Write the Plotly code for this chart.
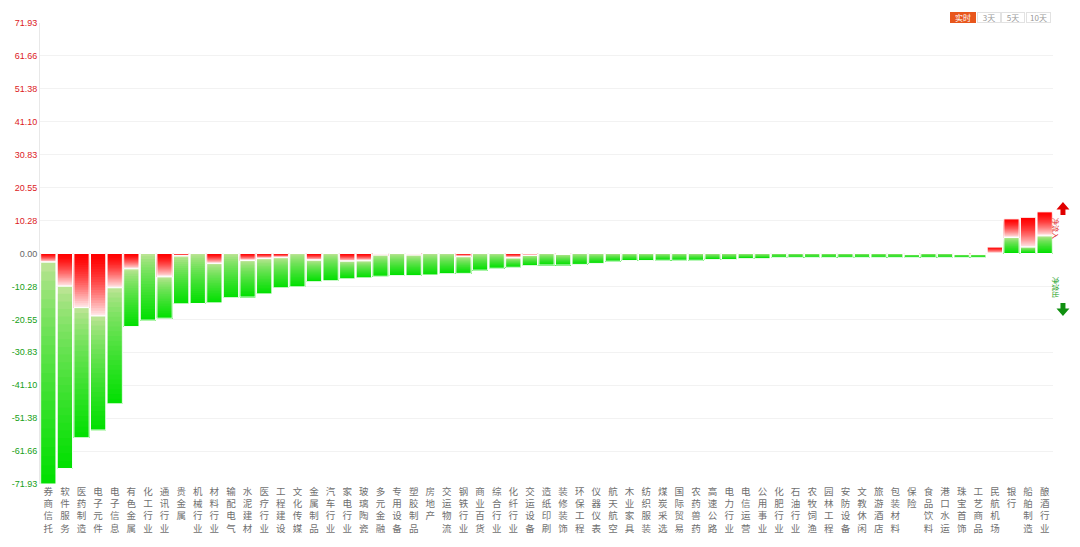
import plotly.graph_objects as go

categories = ["券商信托", "软件服务", "医药制造", "电子元件", "电子信息", "有色金属", "化工行业", "通讯行业",
              "贵金属", "机械行业", "材料行业", "输配电气", "水泥建材", "医疗行业", "工程建设", "文化传媒",
              "金属制品", "汽车行业", "家电行业", "玻璃陶瓷", "多元金融", "专用设备", "塑胶制品", "房地产",
              "交运物流", "钢铁行业", "商业百货", "综合行业", "化纤行业", "交运设备", "造纸印刷", "装修装饰",
              "环保工程", "仪器仪表", "航天航空", "木业家具", "纺织服装", "煤炭采选", "国际贸易", "农药兽药",
              "高速公路", "电力行业", "电信运营", "公用事业", "化肥行业", "石油行业", "农牧饲渔", "园林工程",
              "安防设备", "文教休闲", "旅游酒店", "包装材料", "保险", "食品饮料", "港口水运", "珠宝首饰",
              "工艺商品", "民航机场", "银行", "船舶制造", "酿酒行业"]

# red (inflow) segment and green (outflow) segment, signed
red_part = [-2.7, -10.2, -16.9, -19.5, -10.7, -4.8, 0.0, -7.3,
            -0.8, 0.0, -3.1, 0.0, -2.2, -1.6, -1.3, 0.0,
            -2.1, 0.0, -2.4, -2.3, -0.5, 0.0, -0.5, 0.0,
            0.0, -1.0, 0.0, 0.0, -1.4, -0.6, 0.0, -0.3,
            0.0, 0.0, 0.0, 0.0, 0.0, 0.0, 0.0, 0.0,
            0.0, 0.0, 0.0, 0.0, 0.0, 0.0, 0.0, 0.0,
            0.0, 0.0, 0.0, 0.0, -0.3, 0.0, 0.0, -0.3,
            -0.3, 2.0, 5.8, 9.3, 7.5]
green_part = [-69.23, -56.9, -40.6, -35.6, -36.2, -18.0, -20.8, -12.9,
              -14.9, -15.6, -12.3, -13.8, -11.4, -11.0, -9.4, -10.4,
              -6.7, -8.5, -5.5, -5.3, -6.6, -6.9, -6.4, -6.7,
              -6.3, -5.2, -5.2, -4.6, -2.9, -3.2, -3.6, -3.3,
              -3.4, -3.1, -2.4, -2.2, -2.2, -2.1, -2.1, -2.1,
              -1.9, -1.9, -1.6, -1.6, -1.2, -1.2, -1.2, -1.2,
              -1.2, -1.2, -1.2, -1.2, -0.9, -1.2, -1.2, -0.9,
              -0.9, 0.0, 5.0, 2.0, 5.5]

ymax = 71.932
tick_vals = [ymax * k / 7 for k in range(-7, 8)]
period_buttons = ["实时", "3天", "5天", "10天"]

N = 24  # gradient slices


def segs(r, g):
    if r <= 0 and g <= 0:
        return (0.0, r), (r, r + g)
    return (g + r, g), (g, 0.0)


red_segs, green_segs = zip(*[segs(r, g) for r, g in zip(red_part, green_part)])


def lerp(c1, c2, t):
    return "rgb(%d,%d,%d)" % tuple(round(a + (b - a) * t) for a, b in zip(c1, c2))


RED_TOP, RED_BOT = (255, 0, 0), (255, 236, 236)
GRN_TOP, GRN_BOT = (198, 228, 156), (0, 224, 0)

fig = go.Figure()
xs = list(range(len(categories)))
for segset, ctop, cbot, gam in [(red_segs, RED_TOP, RED_BOT, 1.5), (green_segs, GRN_TOP, GRN_BOT, 0.7)]:
    for k in range(N):
        # each slice runs from its own top down to the segment bottom; later slices cover the lower part
        bases, heights = [], []
        for top, bot in segset:
            h = top - bot
            t0 = top - h * k / N
            bases.append(bot)
            heights.append(t0 - bot)
        t = ((k + 0.5) / N) ** gam
        fig.add_trace(go.Bar(x=xs, y=heights, base=bases, marker=dict(color=lerp(ctop, cbot, t), line=dict(width=0)),
                             showlegend=False, hoverinfo="skip"))
    # outline
    fig.add_trace(go.Bar(x=xs, y=[(t - b) if t != b else None for t, b in segset], base=[b for t, b in segset],
                         marker=dict(color="rgba(0,0,0,0)", line=dict(color="white", width=1)),
                         showlegend=False, hoverinfo="skip"))


def tick_txt(v):
    s = "%.2f" % abs(v)
    if v > 0.001:
        return "<span style='color:#dc1a24'>%s</span>" % s
    if v < -0.001:
        return "<span style='color:#16a016'>-%s</span>" % s
    return "<span style='color:#666666'>0.00</span>"


fig.update_layout(
    width=1080, height=547, autosize=False,
    margin=dict(l=36, r=27, t=23, b=63),
    paper_bgcolor="white", plot_bgcolor="white",
    barmode="overlay", bargap=0.08,
    hovermode=False,
    font=dict(family="Noto Sans CJK SC, Liberation Sans", size=9, color="#666"),
)
fig.update_xaxes(
    range=[-0.5, len(categories) - 0.5],
    tickvals=xs, ticktext=["<br>".join(list(c)) for c in categories],
    tickangle=0, ticks="", showgrid=False, zeroline=False, showline=False,
    tickfont=dict(family="Noto Sans CJK SC", size=9.5, color="#707070"),
)
fig.update_yaxes(
    range=[-ymax, ymax], tickvals=tick_vals, ticktext=[tick_txt(v) for v in tick_vals],
    showgrid=True, gridcolor="#f2f2f2", gridwidth=1, zeroline=False,
    showline=True, linecolor="#e8e8e8", linewidth=1, ticks="",
    tickfont=dict(family="Liberation Sans", size=9),
)


def pxx(x):
    return (x - 36) / 1017


def pyy(y):
    return (484 - y) / 461


# period buttons
btn_centers = [963, 989, 1013, 1038.5]
btn_widths = [24, 22, 22, 23]
for i, (lab, cx, w) in enumerate(zip(period_buttons, btn_centers, btn_widths)):
    active = i == 0
    fig.add_annotation(xref="paper", yref="paper", x=pxx(cx), y=pyy(17.5), text=lab, showarrow=False,
                       width=w, height=9, borderpad=0, borderwidth=1,
                       bgcolor="#e8561c" if active else "white",
                       bordercolor="#e8561c" if active else "#e2e2e2",
                       font=dict(size=8, color="white" if active else "#999", family="Noto Sans CJK SC"),
                       xanchor="center", yanchor="middle")

# arrows
up = "M {} {} L {} {} L {} {} L {} {} L {} {} L {} {} L {} {} Z".format(
    pxx(1063), pyy(202), pxx(1069.5), pyy(209.5), pxx(1065.5), pyy(209.5), pxx(1065.5), pyy(215),
    pxx(1060.5), pyy(215), pxx(1060.5), pyy(209.5), pxx(1056.5), pyy(209.5))
down = "M {} {} L {} {} L {} {} L {} {} L {} {} L {} {} L {} {} Z".format(
    pxx(1063), pyy(316), pxx(1069.5), pyy(308.5), pxx(1065.5), pyy(308.5), pxx(1065.5), pyy(303),
    pxx(1060.5), pyy(303), pxx(1060.5), pyy(308.5), pxx(1056.5), pyy(308.5))
fig.add_shape(type="path", path=up, xref="paper", yref="paper", fillcolor="#e00000", line=dict(width=0))
fig.add_shape(type="path", path=down, xref="paper", yref="paper", fillcolor="#109010", line=dict(width=0))
fig.add_annotation(xref="paper", yref="paper", x=pxx(1063), y=pyy(229), text="净流入", textangle=90,
                   showarrow=False, font=dict(size=7, color="#e03030", family="Noto Sans CJK SC"))
fig.add_annotation(xref="paper", yref="paper", x=pxx(1063), y=pyy(288), text="净流出", textangle=90,
                   showarrow=False, font=dict(size=7, color="#20a020", family="Noto Sans CJK SC"))

fig.write_html("out.html", config={"displayModeBar": False},
               post_script="document.body.style.margin='0';document.body.style.overflow='hidden';")
